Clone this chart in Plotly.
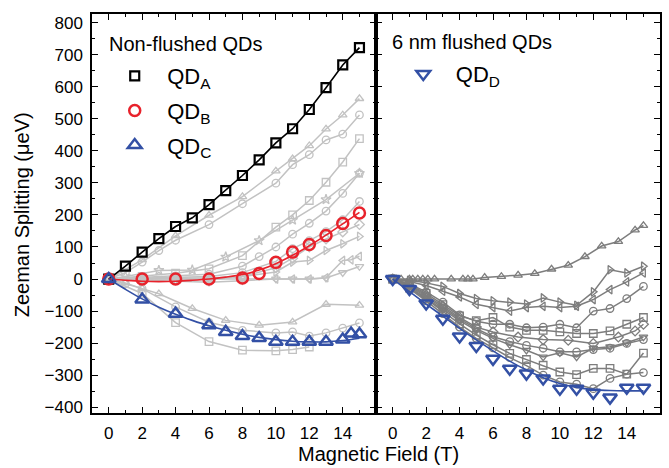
import plotly.graph_objects as go

# ---------------- data: left panel (non-flushed) ----------------
qdA_x = [0, 1, 2, 3, 4, 5, 6, 7, 8, 9, 10, 11, 12, 13, 14, 15]
qdA_y = [0, 40, 84, 126, 164, 191, 232, 276, 323, 372, 425, 469, 529, 597, 668, 722]

qdB_x = [0, 2, 4, 6, 8, 9, 10, 11, 12, 13, 14, 15]
qdB_y = [0, 0, 0, 0, 3, 17, 52, 84, 108, 136, 173, 206]

qdC_x = [0, 2, 4, 6, 7, 8, 9, 10, 11, 12, 13, 14, 14.5, 15]
qdC_y = [0, -64, -108, -144, -165, -178, -184, -196, -196, -196, -196, -189, -170, -172]

fit_x = [0, 1, 2, 3, 4, 5, 6, 7, 8, 9, 10, 11, 12, 13, 14, 15]
fitB_y = [0, -4, -7, -8, -7, -4, 0, 6, 14, 28, 48, 74, 104, 137, 172, 208]
fitC_y = [0, -32, -62, -88, -110, -129, -146, -160, -172, -182, -189, -194, -196, -196, -192, -185]

# grey reference dots, left panel
g1_x = [0, 2, 4, 6, 8, 10, 11, 12, 13, 14, 15]
g1_y = [0, 60, 135, 199, 257, 337, 375, 416, 468, 512, 563]
g2_x = [0, 1, 2, 3, 4, 6, 8, 10, 11, 12, 13, 14, 15]
g2_y = [0, 20, 53, 89, 121, 170, 235, 299, 357, 388, 434, 452, 512]
g3_x = [0, 2, 4, 6, 8, 10, 11, 12, 13, 14, 15]
g3_y = [0, 8, 18, 32, 73, 162, 200, 245, 302, 365, 438]
g4_x = [0, 1, 3, 5, 7, 9, 11, 13, 15]
g4_y = [0, 8, 27, 28, 69, 120, 184, 248, 330]
g5_x = [0, 2, 4, 6, 8, 9, 10, 11, 12, 13, 14, 15]
g5_y = [0, 4, 10, 15, 40, 70, 100, 140, 174, 212, 267, 330]
g6_x = [0, 2, 4, 6, 8, 10, 11, 12, 13, 14, 15]
g6_y = [0, 2, 5, 8, 20, 55, 95, 120, 148, 185, 242]
g7_x = [0, 2, 4, 6, 8, 10, 11, 12, 13, 14, 15]
g7_y = [0, 0, 0, -3, 8, 35, 65, 100, 125, 147, 170]
g8_x = [0, 2, 4, 6, 8, 10, 11, 12, 13, 14, 15]
g8_y = [0, 2, 3, 3, 8, 22, 53, 58, 89, 110, 133]
g9_x = [0, 2, 4, 6, 8, 10, 11, 12, 13, 14, 14.5, 15]
g9_y = [0, 0, 2, 0, 0, 0, 0, 0, 4, 58, 60, 71]
g10_x = [0, 2, 4, 6, 8, 10, 11, 12, 13, 14, 15]
g10_y = [0, -3, -5, -10, -5, 0, 0, 0, 3, 20, 39]
g11_x = [0, 1, 2, 3, 5, 7, 9, 11, 13, 15]
g11_y = [0, -12, -30, -46, -92, -129, -144, -134, -79, -82]
g12_x = [0, 1, 2, 4, 6, 8, 10, 11, 12, 13, 14, 15]
g12_y = [0, -15, -30, -87, -135, -160, -168, -165, -178, -168, -153, -137]
g13_x = [0, 2, 4, 6, 8, 10, 11, 12]
g13_y = [0, -45, -136, -195, -222, -224, -220, -212]

# ---------------- data: right panel (6 nm flushed) ----------------
qdD_x = [0, 1, 2, 3, 4, 5, 6, 7, 8, 9, 10, 11, 12, 13, 14, 15]
qdD_y = [0, -31, -76, -124, -179, -209, -249, -280, -295, -310, -342, -342, -355, -370, -339, -339]
fitD_y = [0, -39, -78, -116, -154, -190, -224, -256, -284, -308, -326, -338, -345, -348, -349, -349]

xr = [0, 1, 2, 3, 4, 5, 6, 7, 8, 9, 10, 11, 12, 13, 14, 15]
r1_x = [0, 0.5, 1, 1.2, 1.5, 1.8, 2.1, 2.5, 3.5, 4.2, 4.5, 4.8, 5.5, 6.5, 7.5, 8.5, 9.5, 10.5, 11.5, 12.5, 13.5, 14.5, 15]
r1_y = [0, 0, 0, 0, 0, 0, 0, 0, 0, 0, 0, 0, 5, 8, 12, 17, 31, 43, 70, 103, 117, 153, 167]
r2_y = [0, -4, -12, -23, -45, -61, -68, -72, -78, -59, -72, -82, -40, 29, 19, 40]
r3_y = [0, -8, -20, -38, -56, -79, -89, -100, -89, -85, -89, -85, -64, -33, -9, 19]
r4_y = [0, -15, -40, -72, -112, -132, -141, -141, -152, -150, -141, -152, -100, -92, -61, -23]
r5_y = [0, -18, -45, -80, -115, -130, -120, -150, -160, -160, -165, -170, -170, -162, -141, -120]
r6_x = [0, 1, 2, 3, 4, 5, 6, 7.5, 9, 10.5, 12, 13.5, 14.5, 15]
r6_y = [0, -20, -50, -85, -120, -150, -165, -181, -189, -191, -201, -181, -162, -141]
r7_y = [0, -22, -55, -90, -125, -155, -180, -195, -207, -216, -227, -227, -220, -216, -201, -189]
r8_y = [0, -25, -60, -95, -130, -160, -185, -205, -222, -243, -230, -243, -216, -211, -199, -181]
r9_y = [0, -28, -62, -100, -140, -175, -205, -232, -251, -269, -290, -298, -279, -279, -297, -231]
r10_y = [0, -30, -68, -108, -150, -185, -215, -245, -270, -300, -321, -328, -342, -310, -297, -292]

# ---------------- styling ----------------
LGREY = "#c2c2c2"
DGREY = "#7d7d7d"
RED = "#e8222b"
BLUE = "#3350a5"
FONT = "Liberation Sans, Arial, Helvetica, sans-serif"

fig = go.Figure()


def grey(x, y, sym, color, xa, ya):
    fig.add_trace(go.Scatter(
        x=x, y=y, mode="lines+markers", xaxis=xa, yaxis=ya, showlegend=False,
        line=dict(color=color, width=1.5),
        marker=dict(symbol=sym, size=7.5, color=color, line=dict(color=color, width=1.3)),
        hoverinfo="skip"))


left_grey = [
    (g1_x, g1_y, "triangle-up-open"), (g2_x, g2_y, "circle-open"),
    (g3_x, g3_y, "square-open"), (g4_x, g4_y, "star-open"),
    (g5_x, g5_y, "circle-open"), (g6_x, g6_y, "circle-open"),
    (g7_x, g7_y, "diamond-open"), (g8_x, g8_y, "triangle-right-open"),
    (g9_x, g9_y, "triangle-left-open"), (g10_x, g10_y, "triangle-down-open"),
    (g11_x, g11_y, "triangle-up-open"), (g12_x, g12_y, "circle-open"),
    (g13_x, g13_y, "square-open"),
]
for x, y, s in left_grey:
    grey(x, y, s, LGREY, "x", "y")

right_grey = [
    (r1_x, r1_y, "triangle-up-open"), (xr, r2_y, "triangle-right-open"),
    (xr, r3_y, "triangle-left-open"), (xr, r4_y, "circle-open"),
    (xr, r5_y, "square-open"), (r6_x, r6_y, "diamond-open"),
    (xr, r7_y, "circle-open"), (xr, r8_y, "triangle-down-open"),
    (xr, r9_y, "square-open"), (xr, r10_y, "circle-open"),
]
for x, y, s in right_grey:
    grey(x, y, s, DGREY, "x2", "y2")

# fit / guide lines
fig.add_trace(go.Scatter(x=qdA_x, y=qdA_y, mode="lines", line=dict(color="black", width=1.6),
                         showlegend=False, hoverinfo="skip"))
fig.add_trace(go.Scatter(x=fit_x, y=fitB_y, mode="lines", line=dict(color=RED, width=1.6, shape="spline"),
                         showlegend=False, hoverinfo="skip"))
fig.add_trace(go.Scatter(x=fit_x, y=fitC_y, mode="lines", line=dict(color=BLUE, width=1.6, shape="spline"),
                         showlegend=False, hoverinfo="skip"))
fig.add_trace(go.Scatter(x=fit_x, y=fitD_y, mode="lines", xaxis="x2", yaxis="y2",
                         line=dict(color=BLUE, width=1.6, shape="spline"),
                         showlegend=False, hoverinfo="skip"))

# highlighted dots
fig.add_trace(go.Scatter(x=qdA_x, y=qdA_y, mode="markers", name="QD<sub>A</sub>", legend="legend",
                         legendgroup="a",
                         marker=dict(symbol="square-open", size=9, color="black", line=dict(color="black", width=2.2))))
fig.add_trace(go.Scatter(x=qdB_x, y=qdB_y, mode="markers", name="QD<sub>B</sub>", legend="legend",
                         legendgroup="b",
                         marker=dict(symbol="circle-open", size=11, color=RED, line=dict(color=RED, width=2.5))))
fig.add_trace(go.Scatter(x=qdC_x, y=qdC_y, mode="markers", name="QD<sub>C</sub>", legend="legend",
                         legendgroup="c",
                         marker=dict(symbol="triangle-up-open", size=12, color=BLUE, line=dict(color=BLUE, width=2.5))))
fig.add_trace(go.Scatter(x=qdD_x, y=qdD_y, mode="markers", name="QD<sub>D</sub>", legend="legend2",
                         xaxis="x2", yaxis="y2",
                         marker=dict(symbol="triangle-down-open", size=12, color=BLUE, line=dict(color=BLUE, width=2.5))))

xax = dict(range=[-1, 15.99], tick0=0, dtick=2, ticks="inside", ticklen=6, tickwidth=1.2,
           tickcolor="black", showline=True, linecolor="black", linewidth=1.5, mirror="ticks",
           showgrid=False, zeroline=False, tickfont=dict(size=17, color="black"),
           minor=dict(dtick=1, tick0=0, ticks="inside", ticklen=3, tickwidth=1.2, tickcolor="black"),
           ticklabelstandoff=4)
yax = dict(range=[-418, 827], tick0=0, dtick=100, ticks="inside", ticklen=6, tickwidth=1.2,
           tickcolor="black", showline=True, linecolor="black", linewidth=1.5, mirror="ticks",
           showgrid=False, zeroline=False, tickfont=dict(size=17, color="black"),
           minor=dict(dtick=50, tick0=0, ticks="inside", ticklen=3, tickwidth=1.2, tickcolor="black"),
           ticklabelstandoff=4)

fig.update_layout(
    width=669, height=468,
    margin=dict(l=92, r=7, t=14, b=55),
    paper_bgcolor="white", plot_bgcolor="white",
    font=dict(family=FONT, color="black"),
    xaxis=dict(domain=[0, 0.5], anchor="y", **xax),
    yaxis=dict(domain=[0, 1], anchor="x", **yax),
    xaxis2=dict(domain=[0.5, 1], anchor="y2", **xax),
    yaxis2=dict(domain=[0, 1], anchor="x2", showticklabels=False, **yax),
    legend=dict(font=dict(size=22), x=0.018, y=0.897, xanchor="left", yanchor="top",
                bgcolor="rgba(0,0,0,0)", itemsizing="trace", itemwidth=55,
                traceorder="grouped", tracegroupgap=3),
    legend2=dict(font=dict(size=22), x=0.526, y=0.902, xanchor="left", yanchor="top",
                 bgcolor="rgba(0,0,0,0)", itemsizing="trace", itemwidth=55),
    annotations=[
        dict(text="Non-flushed QDs", x=0.026, y=0.925, xref="paper", yref="paper",
             showarrow=False, font=dict(size=20), xanchor="left", yanchor="middle"),
        dict(text="6 nm flushed QDs", x=0.524, y=0.93, xref="paper", yref="paper",
             showarrow=False, font=dict(size=20), xanchor="left", yanchor="middle"),
        dict(text="Magnetic Field (T)", x=0.505, y=-0.104, xref="paper", yref="paper",
             showarrow=False, font=dict(size=20), xanchor="center", yanchor="middle"),
        dict(text="Zeeman Splitting (μeV)", x=-0.124, y=0.497, xref="paper", yref="paper",
             showarrow=False, font=dict(size=20), textangle=-90, xanchor="center", yanchor="middle"),
    ],
)

fig.write_html("out.html", config={"displayModeBar": False},
               post_script="document.body.style.margin='0px';")
